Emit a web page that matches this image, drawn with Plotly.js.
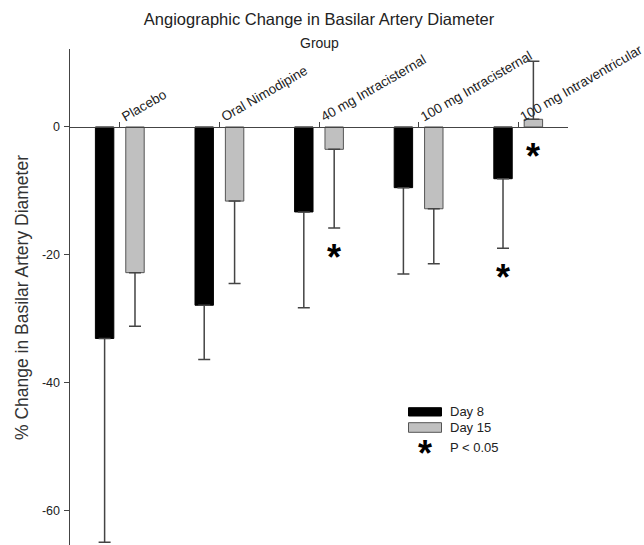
<!DOCTYPE html>
<html>
<head>
<meta charset="utf-8">
<script src="https://cdn.plot.ly/plotly-3.0.1.min.js"></script>
<style>html,body{margin:0;padding:0;background:#fff;}#chart{width:644px;height:545px;}</style>
</head>
<body>
<div id="chart"></div>
<script>
// ---- data ----
var groups = ['Placebo', 'Oral Nimodipine', '40 mg Intracisternal', '100 mg Intracisternal', '100 mg Intraventricular'];
var day8 = [-33.1, -27.9, -13.3, -9.5, -8.1];
var day8Err = [31.9, 8.5, 15.0, 13.5, 10.9];
var day15 = [-22.8, -11.6, -3.5, -12.8, 1.2];
var day15Err = [8.4, 12.9, 12.3, 8.6, 9.1];
var sig8 = [false, false, false, false, true];
var sig15 = [false, false, true, false, true];
var yTickVals = [0, -20, -40, -60];
var yTickText = ['0', '-20', '-40', '-60'];

// ---- layout constants ----
var W = 644, H = 545;
var mL = 70, mR = 76, mT = 49, mB = 0;
var pw = W - mL - mR, ph = H - mT - mB;
var yTop = 12.2, pxPerUnit = 6.39;
var yBot = yTop - ph / pxPerUnit;
var xRange = [-0.5, 4.5];
var barW = 0.185, off8 = -0.245, off15 = 0.06;
var FONT = 'Liberation Sans, Arial, sans-serif';
var TXT = '#222';

function px2paperX(px) { return (px - mL) / pw; }
function px2paperY(py) { return 1 - (py - mT) / ph; }

var idx = groups.map(function (g, i) { return i; });
function plus(vals, errs) { return vals.map(function (v, i) { return v > 0 ? errs[i] : 0; }); }
function minus(vals, errs) { return vals.map(function (v, i) { return v < 0 ? errs[i] : 0; }); }

var errStyle = { color: '#444', thickness: 1.5, width: 6 };

var traces = [
  {
    type: 'bar', x: idx, y: day8, width: barW, offset: off8, name: 'Day 8',
    marker: { color: '#000', line: { color: '#000', width: 1 } },
    error_y: Object.assign({ type: 'data', symmetric: false, array: plus(day8, day8Err), arrayminus: minus(day8, day8Err) }, errStyle),
    showlegend: false, hoverinfo: 'none'
  },
  {
    type: 'bar', x: idx, y: day15, width: barW, offset: off15, name: 'Day 15',
    marker: { color: '#c0c0c0', line: { color: '#555', width: 1 } },
    error_y: Object.assign({ type: 'data', symmetric: false, array: plus(day15, day15Err), arrayminus: minus(day15, day15Err) }, errStyle),
    showlegend: false, hoverinfo: 'none'
  }
];

// significance asterisks placed below each flagged bar/error bar
var annotations = [];
var starSize = 36, starShift = -5.5, starGap = 3.7;
function addStars(vals, errs, flags, off) {
  vals.forEach(function (v, i) {
    if (!flags[i]) return;
    var low = v < 0 ? v - errs[i] : 0;
    annotations.push({
      xref: 'x', yref: 'y', x: i + off + barW / 2, y: low - starGap,
      text: '*', showarrow: false, xanchor: 'center', yanchor: 'middle', yshift: starShift,
      font: { family: FONT, size: starSize, color: '#000', weight: 'bold' }
    });
  });
}
addStars(day8, day8Err, sig8, off8);
addStars(day15, day15Err, sig15, off15);

// axis-ish texts
annotations.push({
  xref: 'paper', yref: 'paper', x: 0.5, y: px2paperY(43), text: 'Group', showarrow: false,
  xanchor: 'center', yanchor: 'middle', font: { family: FONT, size: 14, color: TXT }
});
annotations.push({
  xref: 'paper', yref: 'paper', x: px2paperX(22), y: px2paperY(298), text: '% Change in Basilar Artery Diameter',
  showarrow: false, textangle: -90, xanchor: 'center', yanchor: 'middle', font: { family: FONT, size: 17.5, color: '#333' }
});

// legend (drawn by hand to match the wide swatches)
var legendItems = [
  { label: 'Day 8', y: 411.8 },
  { label: 'Day 15', y: 427.5 },
  { label: 'P < 0.05', y: 447.7 }
];
var shapes = [
  { type: 'rect', xref: 'paper', yref: 'paper', x0: px2paperX(408.5), x1: px2paperX(441.5), y0: px2paperY(416), y1: px2paperY(407.7), fillcolor: '#000', line: { color: '#000', width: 1 } },
  { type: 'rect', xref: 'paper', yref: 'paper', x0: px2paperX(408.5), x1: px2paperX(441.5), y0: px2paperY(432.3), y1: px2paperY(422.7), fillcolor: '#c0c0c0', line: { color: '#555', width: 1 } }
];
legendItems.forEach(function (it) {
  annotations.push({
    xref: 'paper', yref: 'paper', x: px2paperX(448), y: px2paperY(it.y), text: it.label, showarrow: false,
    xanchor: 'left', yanchor: 'middle', font: { family: FONT, size: 13, color: TXT }
  });
});
annotations.push({
  xref: 'paper', yref: 'paper', x: px2paperX(425), y: px2paperY(448), text: '*', showarrow: false,
  xanchor: 'center', yanchor: 'middle', yshift: starShift, font: { family: FONT, size: starSize, color: '#000', weight: 'bold' }
});

var layout = {
  width: W, height: H,
  margin: { l: mL, r: mR, t: mT, b: mB, pad: 0 },
  paper_bgcolor: '#fff', plot_bgcolor: '#fff',
  barmode: 'overlay',
  showlegend: false,
  title: {
    text: 'Angiographic Change in Basilar Artery Diameter',
    font: { family: FONT, size: 16.5, color: TXT },
    xref: 'paper', x: 0.5, xanchor: 'center',
    yref: 'container', y: 1 - 19 / H, yanchor: 'middle'
  },
  xaxis: {
    range: xRange, side: 'top', anchor: 'free', position: (0 - yBot) / (yTop - yBot),
    showline: true, linecolor: '#444', linewidth: 1.5,
    showgrid: false, zeroline: false,
    ticks: 'outside', ticklen: 5, tickwidth: 1, tickcolor: '#444',
    tickmode: 'array', tickvals: idx, ticktext: groups, tickangle: -30,
    ticklabelstandoff: -6, ticklabelshift: 2, ticklabeloverflow: 'allow',
    tickfont: { family: FONT, size: 13.5, color: TXT },
    fixedrange: true
  },
  yaxis: {
    range: [yBot, yTop], showline: true, linecolor: '#444', linewidth: 1.5,
    showgrid: false, zeroline: false,
    ticks: 'outside', ticklen: 5, tickwidth: 1, tickcolor: '#444',
    tickmode: 'array', tickvals: yTickVals, ticktext: yTickText,
    ticklabelstandoff: 1,
    tickfont: { family: FONT, size: 12.5, color: TXT },
    fixedrange: true
  },
  annotations: annotations,
  shapes: shapes
};

Plotly.newPlot('chart', traces, layout, { displayModeBar: false, staticPlot: true });
</script>
</body>
</html>
